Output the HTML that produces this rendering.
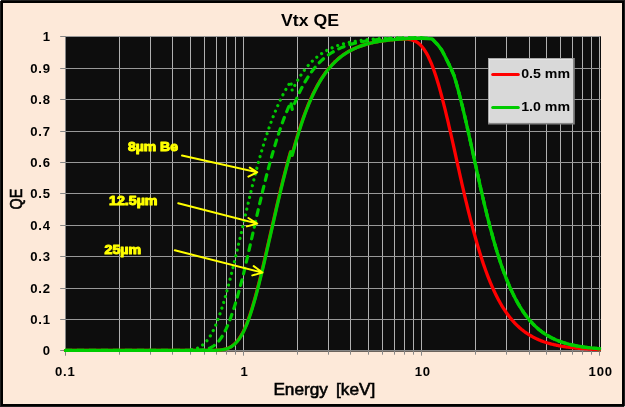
<!DOCTYPE html>
<html lang="en">
<head>
<meta charset="utf-8">
<title>Vtx QE</title>
<style>
html,body{margin:0;padding:0;background:#FDE9D9;}
body{width:625px;height:407px;overflow:hidden;}
svg{display:block;}
text{font-family:"Liberation Sans",sans-serif;fill:#000;}
.tick{font-size:13.1px;font-weight:bold;letter-spacing:0.85px;}
.title{font-size:16.6px;font-weight:bold;}
.axt{font-size:15.6px;font-weight:normal;stroke:#000;stroke-width:0.55px;}
.axq{font-size:15.6px;font-weight:normal;stroke:#000;stroke-width:0.6px;}
.ann{font-size:12.4px;font-weight:bold;fill:#ffff00;stroke:#ffff00;stroke-width:1px;stroke-linejoin:round;}
.leg{font-size:13.3px;font-weight:bold;}
</style>
</head>
<body>
<svg width="625" height="407" viewBox="0 0 625 407">
<rect x="0" y="0" width="625" height="407" fill="#FDE9D9"/>
<!-- plot area -->
<rect x="65.0" y="36.0" width="536.0" height="315.6" fill="#0D0D0D"/>
<g shape-rendering="auto">
<line x1="65.5" y1="350" x2="65.5" y2="355.7" stroke="#868686" stroke-width="1"/>
<line x1="119.5" y1="36.0" x2="119.5" y2="350" stroke="#b0b0b0" stroke-width="1"/>
<line x1="119.5" y1="350" x2="119.5" y2="354.7" stroke="#868686" stroke-width="1"/>
<line x1="150.5" y1="36.0" x2="150.5" y2="350" stroke="#b0b0b0" stroke-width="1"/>
<line x1="150.5" y1="350" x2="150.5" y2="354.7" stroke="#868686" stroke-width="1"/>
<line x1="172.5" y1="36.0" x2="172.5" y2="350" stroke="#b0b0b0" stroke-width="1"/>
<line x1="172.5" y1="350" x2="172.5" y2="354.7" stroke="#868686" stroke-width="1"/>
<line x1="190.5" y1="36.0" x2="190.5" y2="350" stroke="#b0b0b0" stroke-width="1"/>
<line x1="190.5" y1="350" x2="190.5" y2="354.7" stroke="#868686" stroke-width="1"/>
<line x1="204.5" y1="36.0" x2="204.5" y2="350" stroke="#b0b0b0" stroke-width="1"/>
<line x1="204.5" y1="350" x2="204.5" y2="354.7" stroke="#868686" stroke-width="1"/>
<line x1="216.5" y1="36.0" x2="216.5" y2="350" stroke="#b0b0b0" stroke-width="1"/>
<line x1="216.5" y1="350" x2="216.5" y2="354.7" stroke="#868686" stroke-width="1"/>
<line x1="226.5" y1="36.0" x2="226.5" y2="350" stroke="#b0b0b0" stroke-width="1"/>
<line x1="226.5" y1="350" x2="226.5" y2="354.7" stroke="#868686" stroke-width="1"/>
<line x1="235.5" y1="36.0" x2="235.5" y2="350" stroke="#b0b0b0" stroke-width="1"/>
<line x1="235.5" y1="350" x2="235.5" y2="354.7" stroke="#868686" stroke-width="1"/>
<line x1="243.5" y1="36.0" x2="243.5" y2="350" stroke="#b0b0b0" stroke-width="1"/>
<line x1="243.5" y1="350" x2="243.5" y2="355.7" stroke="#868686" stroke-width="1"/>
<line x1="297.5" y1="36.0" x2="297.5" y2="350" stroke="#b0b0b0" stroke-width="1"/>
<line x1="297.5" y1="350" x2="297.5" y2="354.7" stroke="#868686" stroke-width="1"/>
<line x1="328.5" y1="36.0" x2="328.5" y2="350" stroke="#b0b0b0" stroke-width="1"/>
<line x1="328.5" y1="350" x2="328.5" y2="354.7" stroke="#868686" stroke-width="1"/>
<line x1="350.5" y1="36.0" x2="350.5" y2="350" stroke="#b0b0b0" stroke-width="1"/>
<line x1="350.5" y1="350" x2="350.5" y2="354.7" stroke="#868686" stroke-width="1"/>
<line x1="368.5" y1="36.0" x2="368.5" y2="350" stroke="#b0b0b0" stroke-width="1"/>
<line x1="368.5" y1="350" x2="368.5" y2="354.7" stroke="#868686" stroke-width="1"/>
<line x1="382.5" y1="36.0" x2="382.5" y2="350" stroke="#b0b0b0" stroke-width="1"/>
<line x1="382.5" y1="350" x2="382.5" y2="354.7" stroke="#868686" stroke-width="1"/>
<line x1="394.5" y1="36.0" x2="394.5" y2="350" stroke="#b0b0b0" stroke-width="1"/>
<line x1="394.5" y1="350" x2="394.5" y2="354.7" stroke="#868686" stroke-width="1"/>
<line x1="404.5" y1="36.0" x2="404.5" y2="350" stroke="#b0b0b0" stroke-width="1"/>
<line x1="404.5" y1="350" x2="404.5" y2="354.7" stroke="#868686" stroke-width="1"/>
<line x1="413.5" y1="36.0" x2="413.5" y2="350" stroke="#b0b0b0" stroke-width="1"/>
<line x1="413.5" y1="350" x2="413.5" y2="354.7" stroke="#868686" stroke-width="1"/>
<line x1="421.5" y1="36.0" x2="421.5" y2="350" stroke="#b0b0b0" stroke-width="1"/>
<line x1="421.5" y1="350" x2="421.5" y2="355.7" stroke="#868686" stroke-width="1"/>
<line x1="475.5" y1="36.0" x2="475.5" y2="350" stroke="#b0b0b0" stroke-width="1"/>
<line x1="475.5" y1="350" x2="475.5" y2="354.7" stroke="#868686" stroke-width="1"/>
<line x1="506.5" y1="36.0" x2="506.5" y2="350" stroke="#b0b0b0" stroke-width="1"/>
<line x1="506.5" y1="350" x2="506.5" y2="354.7" stroke="#868686" stroke-width="1"/>
<line x1="529.5" y1="36.0" x2="529.5" y2="350" stroke="#b0b0b0" stroke-width="1"/>
<line x1="529.5" y1="350" x2="529.5" y2="354.7" stroke="#868686" stroke-width="1"/>
<line x1="546.5" y1="36.0" x2="546.5" y2="350" stroke="#b0b0b0" stroke-width="1"/>
<line x1="546.5" y1="350" x2="546.5" y2="354.7" stroke="#868686" stroke-width="1"/>
<line x1="560.5" y1="36.0" x2="560.5" y2="350" stroke="#b0b0b0" stroke-width="1"/>
<line x1="560.5" y1="350" x2="560.5" y2="354.7" stroke="#868686" stroke-width="1"/>
<line x1="572.5" y1="36.0" x2="572.5" y2="350" stroke="#b0b0b0" stroke-width="1"/>
<line x1="572.5" y1="350" x2="572.5" y2="354.7" stroke="#868686" stroke-width="1"/>
<line x1="582.5" y1="36.0" x2="582.5" y2="350" stroke="#b0b0b0" stroke-width="1"/>
<line x1="582.5" y1="350" x2="582.5" y2="354.7" stroke="#868686" stroke-width="1"/>
<line x1="591.5" y1="36.0" x2="591.5" y2="350" stroke="#b0b0b0" stroke-width="1"/>
<line x1="591.5" y1="350" x2="591.5" y2="354.7" stroke="#868686" stroke-width="1"/>
<line x1="599.5" y1="36.0" x2="599.5" y2="350" stroke="#b0b0b0" stroke-width="1"/>
<line x1="599.5" y1="350" x2="599.5" y2="355.7" stroke="#868686" stroke-width="1"/>
<line x1="60.2" y1="350.5" x2="65.0" y2="350.5" stroke="#868686" stroke-width="1"/>
<line x1="65.0" y1="319.5" x2="600.5" y2="319.5" stroke="#989898" stroke-width="1"/>
<line x1="60.2" y1="319.5" x2="65.0" y2="319.5" stroke="#868686" stroke-width="1"/>
<line x1="65.0" y1="288.5" x2="600.5" y2="288.5" stroke="#989898" stroke-width="1"/>
<line x1="60.2" y1="288.5" x2="65.0" y2="288.5" stroke="#868686" stroke-width="1"/>
<line x1="65.0" y1="256.5" x2="600.5" y2="256.5" stroke="#989898" stroke-width="1"/>
<line x1="60.2" y1="256.5" x2="65.0" y2="256.5" stroke="#868686" stroke-width="1"/>
<line x1="65.0" y1="225.5" x2="600.5" y2="225.5" stroke="#989898" stroke-width="1"/>
<line x1="60.2" y1="225.5" x2="65.0" y2="225.5" stroke="#868686" stroke-width="1"/>
<line x1="65.0" y1="193.5" x2="600.5" y2="193.5" stroke="#989898" stroke-width="1"/>
<line x1="60.2" y1="193.5" x2="65.0" y2="193.5" stroke="#868686" stroke-width="1"/>
<line x1="65.0" y1="162.5" x2="600.5" y2="162.5" stroke="#989898" stroke-width="1"/>
<line x1="60.2" y1="162.5" x2="65.0" y2="162.5" stroke="#868686" stroke-width="1"/>
<line x1="65.0" y1="131.5" x2="600.5" y2="131.5" stroke="#989898" stroke-width="1"/>
<line x1="60.2" y1="131.5" x2="65.0" y2="131.5" stroke="#868686" stroke-width="1"/>
<line x1="65.0" y1="99.5" x2="600.5" y2="99.5" stroke="#989898" stroke-width="1"/>
<line x1="60.2" y1="99.5" x2="65.0" y2="99.5" stroke="#868686" stroke-width="1"/>
<line x1="65.0" y1="68.5" x2="600.5" y2="68.5" stroke="#989898" stroke-width="1"/>
<line x1="60.2" y1="68.5" x2="65.0" y2="68.5" stroke="#868686" stroke-width="1"/>
<line x1="65.0" y1="36.5" x2="600.5" y2="36.5" stroke="#989898" stroke-width="1"/>
<line x1="60.2" y1="36.5" x2="65.0" y2="36.5" stroke="#868686" stroke-width="1"/>
<line x1="65.5" y1="36.0" x2="65.5" y2="351.6" stroke="#868686" stroke-width="1"/>
<line x1="65.0" y1="350.5" x2="601.0" y2="350.5" stroke="#868686" stroke-width="1"/>
</g>
<!-- curves -->
<clipPath id="pc"><rect x="63" y="36" width="538.2" height="317"/></clipPath>
<g fill="none" stroke-linejoin="round" stroke-linecap="round" clip-path="url(#pc)">
<path d="M65.60,350.40 L66.36,350.40 L67.13,350.40 L67.89,350.40 L68.66,350.40 L69.42,350.40 L70.19,350.40 L70.95,350.40 L71.72,350.40 L72.48,350.40 L73.24,350.40 L74.01,350.40 L74.77,350.40 L75.54,350.40 L76.30,350.40 L77.07,350.40 L77.83,350.40 L78.59,350.40 L79.36,350.40 L80.12,350.40 L80.89,350.40 L81.65,350.40 L82.42,350.40 L83.18,350.40 L83.95,350.40 L84.71,350.40 L85.47,350.40 L86.24,350.40 L87.00,350.40 L87.77,350.40 L88.53,350.40 L89.30,350.40 L90.06,350.40 L90.82,350.40 L91.59,350.40 L92.35,350.40 L93.12,350.40 L93.88,350.40 L94.65,350.40 L95.41,350.40 L96.18,350.40 L96.94,350.40 L97.70,350.40 L98.47,350.40 L99.23,350.40 L100.00,350.40 L100.76,350.40 L101.53,350.40 L102.29,350.40 L103.05,350.40 L103.82,350.40 L104.58,350.40 L105.35,350.40 L106.11,350.40 L106.88,350.40 L107.64,350.40 L108.41,350.40 L109.17,350.40 L109.93,350.40 L110.70,350.40 L111.46,350.40 L112.23,350.40 L112.99,350.40 L113.76,350.40 L114.52,350.40 L115.28,350.40 L116.05,350.40 L116.81,350.40 L117.58,350.40 L118.34,350.40 L119.11,350.40 L119.87,350.40 L120.64,350.40 L121.40,350.40 L122.16,350.40 L122.93,350.40 L123.69,350.40 L124.46,350.40 L125.22,350.40 L125.99,350.40 L126.75,350.40 L127.51,350.40 L128.28,350.40 L129.04,350.40 L129.81,350.40 L130.57,350.40 L131.34,350.40 L132.10,350.40 L132.87,350.40 L133.63,350.40 L134.39,350.40 L135.16,350.40 L135.92,350.40 L136.69,350.40 L137.45,350.40 L138.22,350.40 L138.98,350.40 L139.74,350.40 L140.51,350.40 L141.27,350.40 L142.04,350.40 L142.80,350.40 L143.57,350.40 L144.33,350.40 L145.10,350.40 L145.86,350.40 L146.62,350.40 L147.39,350.40 L148.15,350.40 L148.92,350.40 L149.68,350.40 L150.45,350.40 L151.21,350.40 L151.97,350.40 L152.74,350.40 L153.50,350.40 L154.27,350.40 L155.03,350.40 L155.80,350.40 L156.56,350.40 L157.33,350.40 L158.09,350.40 L158.85,350.40 L159.62,350.40 L160.38,350.40 L161.15,350.40 L161.91,350.40 L162.68,350.40 L163.44,350.40 L164.20,350.40 L164.97,350.40 L165.73,350.40 L166.50,350.40 L167.26,350.40 L168.03,350.40 L168.79,350.40 L169.56,350.40 L170.32,350.40 L171.08,350.40 L171.85,350.40 L172.61,350.40 L173.38,350.40 L174.14,350.40 L174.91,350.40 L175.67,350.40 L176.43,350.40 L177.20,350.40 L177.96,350.40 L178.73,350.40 L179.49,350.40 L180.26,350.40 L181.02,350.40 L181.79,350.40 L182.55,350.40 L183.31,350.40 L184.08,350.40 L184.84,350.40 L185.61,350.40 L186.37,350.40 L187.14,350.40 L187.90,350.40 L188.66,350.40 L189.43,350.40 L190.19,350.40 L190.96,350.40 L191.72,350.40 L192.49,350.40 L193.25,350.40 L194.02,350.40 L194.78,350.40 L195.54,350.40 L196.31,350.40 L197.07,350.40 L197.84,350.40 L198.60,350.40 L199.37,350.40 L200.13,350.40 L200.89,350.40 L201.66,350.40 L202.42,350.40 L203.19,350.40 L203.95,350.40 L204.72,350.40 L205.48,350.40 L206.25,350.40 L207.01,350.39 L207.77,350.39 L208.54,350.39 L209.30,350.39 L210.07,350.38 L210.83,350.37 L211.60,350.37 L212.36,350.36 L213.12,350.34 L213.89,350.33 L214.65,350.31 L215.42,350.29 L216.18,350.26 L216.95,350.23 L217.71,350.19 L218.48,350.14 L219.24,350.08 L220.00,350.02 L220.77,349.94 L221.53,349.85 L222.30,349.74 L223.06,349.61 L223.83,349.47 L224.59,349.31 L225.35,349.12 L226.12,348.91 L226.88,348.67 L227.65,348.40 L228.41,348.10 L229.18,347.76 L229.94,347.39 L230.71,346.97 L231.47,346.51 L232.23,346.01 L233.00,345.46 L233.76,344.85 L234.53,344.19 L235.29,343.48 L236.06,342.70 L236.82,341.86 L237.58,340.96 L238.35,340.00 L239.11,338.97 L239.88,337.86 L240.64,336.69 L241.41,335.44 L242.17,334.12 L242.94,332.72 L243.70,331.25 L244.46,329.63 L245.23,327.93 L245.99,326.14 L246.76,324.27 L247.52,322.32 L248.29,320.28 L249.05,318.16 L249.82,315.96 L250.58,313.68 L251.34,311.32 L252.11,308.89 L252.87,306.38 L253.64,303.80 L254.40,301.16 L255.17,298.44 L255.93,295.66 L256.69,292.82 L257.46,289.93 L258.22,286.97 L258.99,283.97 L259.75,280.92 L260.52,277.82 L261.28,274.68 L262.05,271.50 L262.81,268.29 L263.57,265.05 L264.34,261.78 L265.10,258.48 L265.87,255.17 L266.63,251.84 L267.40,248.49 L268.16,245.13 L268.92,241.76 L269.69,238.39 L270.45,235.02 L271.22,231.65 L271.98,228.29 L272.75,224.93 L273.51,221.58 L274.28,218.25 L275.04,214.93 L275.80,211.56 L276.57,208.21 L277.33,204.88 L278.10,201.58 L278.86,198.30 L279.63,195.06 L280.39,191.85 L281.15,188.66 L281.92,185.52 L282.68,182.41 L283.45,179.33 L284.21,176.30 L284.98,173.30 L285.74,170.35 L286.51,167.43 L287.27,164.56 L288.03,161.74 L288.80,158.95 L289.56,156.22 L290.33,153.52 L290.82,151.82 L292.20,155.29 L292.62,153.72 L293.38,150.91 L294.15,148.15 L294.91,145.44 L295.68,142.78 L296.44,140.16 L297.21,137.60 L297.97,135.05 L298.74,132.55 L299.50,130.10 L300.26,127.70 L301.03,125.35 L301.79,123.04 L302.56,120.79 L303.32,118.58 L304.09,116.42 L304.85,114.31 L305.61,112.25 L306.38,110.23 L307.14,108.26 L307.91,106.33 L308.67,104.45 L309.44,102.62 L310.20,100.82 L310.97,99.07 L311.73,97.36 L312.49,95.70 L313.26,94.07 L314.02,92.49 L314.79,90.94 L315.55,89.44 L316.32,87.97 L317.08,86.54 L317.84,85.14 L318.61,83.78 L319.37,82.46 L320.14,81.17 L320.90,79.91 L321.67,78.69 L322.43,77.50 L323.20,76.34 L323.96,75.22 L324.72,74.12 L325.49,73.05 L326.25,72.02 L327.02,71.01 L327.78,70.02 L328.55,69.07 L329.31,68.13 L330.07,67.23 L330.84,66.34 L331.60,65.49 L332.37,64.65 L333.13,63.84 L333.90,63.06 L334.66,62.29 L335.43,61.55 L336.19,60.82 L336.95,60.12 L337.72,59.44 L338.48,58.78 L339.25,58.14 L340.01,57.51 L340.78,56.90 L341.54,56.31 L342.30,55.74 L343.07,55.19 L343.83,54.65 L344.60,54.12 L345.36,53.62 L346.13,53.12 L346.89,52.64 L347.66,52.18 L348.42,51.73 L349.18,51.29 L349.95,50.86 L350.71,50.45 L351.48,50.05 L352.24,49.67 L353.01,49.29 L353.77,48.93 L354.53,48.58 L355.30,48.24 L356.06,47.90 L356.83,47.58 L357.59,47.27 L358.36,46.97 L359.12,46.67 L359.89,46.39 L360.65,46.11 L361.41,45.84 L362.18,45.58 L362.94,45.33 L363.71,45.08 L364.47,44.84 L365.24,44.61 L366.00,44.38 L366.76,44.17 L367.53,43.96 L368.29,43.75 L369.06,43.56 L369.82,43.37 L370.59,43.18 L371.35,43.01 L372.12,42.83 L372.88,42.67 L373.64,42.50 L374.41,42.35 L375.17,42.19 L375.94,42.04 L376.70,41.90 L377.47,41.76 L378.23,41.62 L378.99,41.49 L379.76,41.36 L380.52,41.24 L381.29,41.12 L382.05,41.00 L382.82,40.89 L383.58,40.78 L384.35,40.68 L385.11,40.58 L385.87,40.49 L386.64,40.40 L387.40,40.30 L388.17,40.22 L388.93,40.13 L389.70,40.05 L390.46,39.97 L391.22,39.89 L391.99,39.81 L392.75,39.74 L393.52,39.67 L394.28,39.60 L395.05,39.54 L395.81,39.47 L396.58,39.41 L397.34,39.36 L398.10,39.30 L398.87,39.25 L399.63,39.21 L400.40,39.17 L401.16,39.13 L401.93,39.10 L402.69,39.08 L403.45,39.06 L404.22,39.05 L404.98,39.06 L405.75,39.08 L406.51,39.11 L407.28,39.16 L408.04,39.22 L408.81,39.31 L409.57,39.41 L410.33,39.53 L411.10,39.69 L411.86,39.87 L412.63,40.08 L413.39,40.32 L414.16,40.60 L414.92,40.92 L415.68,41.29 L416.45,41.69 L417.21,42.15 L417.98,42.67 L418.74,43.23 L419.51,43.86 L420.27,44.55 L421.04,45.30 L421.80,46.13 L422.56,47.01 L423.33,47.97 L424.09,49.00 L424.86,50.11 L425.62,51.29 L426.39,52.55 L427.15,53.90 L427.92,55.32 L428.68,56.83 L429.44,58.43 L430.21,60.11 L430.97,61.87 L431.74,63.72 L432.50,65.65 L433.27,67.66 L434.03,69.76 L434.79,71.94 L435.56,74.20 L436.32,76.54 L437.09,78.96 L437.85,81.45 L438.62,84.02 L439.38,86.65 L440.15,89.36 L440.91,92.13 L441.67,94.96 L442.44,97.85 L443.20,100.80 L443.97,103.80 L444.73,106.85 L445.50,109.95 L446.26,113.09 L447.02,116.27 L447.79,119.49 L448.55,122.74 L449.32,126.02 L450.08,129.32 L450.85,132.65 L451.61,136.00 L452.38,139.36 L453.14,142.74 L453.90,146.20 L454.67,149.68 L455.43,153.15 L456.20,156.63 L456.96,160.10 L457.73,163.57 L458.49,167.02 L459.25,170.47 L460.02,173.90 L460.78,177.31 L461.55,180.70 L462.31,184.07 L463.08,187.42 L463.84,190.74 L464.61,194.03 L465.37,197.29 L466.13,200.52 L466.90,203.71 L467.66,206.87 L468.43,209.99 L469.19,213.08 L469.96,216.13 L470.72,219.13 L471.48,222.10 L472.25,225.02 L473.01,227.90 L473.78,230.74 L474.54,233.53 L475.31,236.28 L476.07,239.02 L476.84,241.72 L477.60,244.38 L478.36,246.98 L479.13,249.54 L479.89,252.06 L480.66,254.52 L481.42,256.94 L482.19,259.31 L482.95,261.63 L483.71,263.90 L484.48,266.13 L485.24,268.31 L486.01,270.45 L486.77,272.54 L487.54,274.59 L488.30,276.58 L489.07,278.54 L489.83,280.45 L490.59,282.32 L491.36,284.14 L492.12,285.93 L492.89,287.67 L493.65,289.37 L494.42,291.03 L495.18,292.65 L495.94,294.23 L496.71,295.77 L497.47,297.28 L498.24,298.74 L499.00,300.17 L499.77,301.57 L500.53,302.93 L501.30,304.25 L502.06,305.55 L502.82,306.80 L503.59,308.03 L504.35,309.23 L505.12,310.39 L505.88,311.52 L506.65,312.62 L507.41,313.70 L508.17,314.75 L508.94,315.77 L509.70,316.77 L510.47,317.73 L511.23,318.68 L512.00,319.59 L512.76,320.48 L513.53,321.35 L514.29,322.19 L515.05,323.01 L515.82,323.81 L516.58,324.58 L517.35,325.33 L518.11,326.07 L518.88,326.78 L519.64,327.47 L520.40,328.14 L521.17,328.79 L521.93,329.43 L522.70,330.04 L523.46,330.64 L524.23,331.22 L524.99,331.79 L525.76,332.34 L526.52,332.87 L527.28,333.39 L528.05,333.89 L528.81,334.38 L529.58,334.86 L530.34,335.33 L531.11,335.79 L531.87,336.23 L532.63,336.66 L533.40,337.08 L534.16,337.48 L534.93,337.87 L535.69,338.25 L536.46,338.62 L537.22,338.98 L537.99,339.33 L538.75,339.66 L539.51,339.99 L540.28,340.31 L541.04,340.62 L541.81,340.91 L542.57,341.20 L543.34,341.48 L544.10,341.76 L544.86,342.02 L545.63,342.28 L546.39,342.53 L547.16,342.77 L547.92,343.00 L548.69,343.23 L549.45,343.45 L550.22,343.66 L550.98,343.87 L551.74,344.07 L552.51,344.26 L553.27,344.45 L554.04,344.63 L554.80,344.81 L555.57,344.98 L556.33,345.15 L557.09,345.31 L557.86,345.47 L558.62,345.62 L559.39,345.77 L560.15,345.91 L560.92,346.05 L561.68,346.18 L562.45,346.31 L563.21,346.44 L563.97,346.56 L564.74,346.68 L565.50,346.80 L566.27,346.91 L567.03,347.02 L567.80,347.13 L568.56,347.23 L569.32,347.33 L570.09,347.42 L570.85,347.51 L571.62,347.60 L572.38,347.69 L573.15,347.78 L573.91,347.86 L574.68,347.94 L575.44,348.01 L576.20,348.09 L576.97,348.16 L577.73,348.23 L578.50,348.30 L579.26,348.36 L580.03,348.43 L580.79,348.49 L581.55,348.55 L582.32,348.60 L583.08,348.66 L583.85,348.72 L584.61,348.77 L585.38,348.82 L586.14,348.88 L586.91,348.92 L587.67,348.97 L588.43,349.02 L589.20,349.06 L589.96,349.11 L590.73,349.15 L591.49,349.19 L592.26,349.23 L593.02,349.26 L593.78,349.30 L594.55,349.34 L595.31,349.37 L596.08,349.40 L596.84,349.44 L597.61,349.47 L598.37,349.50 L599.14,349.53 L599.90,349.55" stroke="#ff0000" stroke-width="3.3" transform="translate(-0.3,0)"/>
<path d="M65.60,350.40 L66.36,350.40 L67.13,350.40 L67.89,350.40 L68.66,350.40 L69.42,350.40 L70.19,350.40 L70.95,350.40 L71.72,350.40 L72.48,350.40 L73.24,350.40 L74.01,350.40 L74.77,350.40 L75.54,350.40 L76.30,350.40 L77.07,350.40 L77.83,350.40 L78.59,350.40 L79.36,350.40 L80.12,350.40 L80.89,350.40 L81.65,350.40 L82.42,350.40 L83.18,350.40 L83.95,350.40 L84.71,350.40 L85.47,350.40 L86.24,350.40 L87.00,350.40 L87.77,350.40 L88.53,350.40 L89.30,350.40 L90.06,350.40 L90.82,350.40 L91.59,350.40 L92.35,350.40 L93.12,350.40 L93.88,350.40 L94.65,350.40 L95.41,350.40 L96.18,350.40 L96.94,350.40 L97.70,350.40 L98.47,350.40 L99.23,350.40 L100.00,350.40 L100.76,350.40 L101.53,350.40 L102.29,350.40 L103.05,350.40 L103.82,350.40 L104.58,350.40 L105.35,350.40 L106.11,350.40 L106.88,350.40 L107.64,350.40 L108.41,350.40 L109.17,350.40 L109.93,350.40 L110.70,350.40 L111.46,350.40 L112.23,350.40 L112.99,350.40 L113.76,350.40 L114.52,350.40 L115.28,350.40 L116.05,350.40 L116.81,350.40 L117.58,350.40 L118.34,350.40 L119.11,350.40 L119.87,350.40 L120.64,350.40 L121.40,350.40 L122.16,350.40 L122.93,350.40 L123.69,350.40 L124.46,350.40 L125.22,350.40 L125.99,350.40 L126.75,350.40 L127.51,350.40 L128.28,350.40 L129.04,350.40 L129.81,350.40 L130.57,350.40 L131.34,350.40 L132.10,350.40 L132.87,350.40 L133.63,350.40 L134.39,350.40 L135.16,350.40 L135.92,350.40 L136.69,350.40 L137.45,350.40 L138.22,350.40 L138.98,350.40 L139.74,350.40 L140.51,350.40 L141.27,350.40 L142.04,350.40 L142.80,350.40 L143.57,350.40 L144.33,350.40 L145.10,350.40 L145.86,350.40 L146.62,350.40 L147.39,350.40 L148.15,350.40 L148.92,350.40 L149.68,350.40 L150.45,350.40 L151.21,350.40 L151.97,350.40 L152.74,350.40 L153.50,350.40 L154.27,350.40 L155.03,350.40 L155.80,350.40 L156.56,350.40 L157.33,350.40 L158.09,350.40 L158.85,350.40 L159.62,350.40 L160.38,350.40 L161.15,350.40 L161.91,350.40 L162.68,350.40 L163.44,350.40 L164.20,350.40 L164.97,350.40 L165.73,350.40 L166.50,350.40 L167.26,350.40 L168.03,350.40 L168.79,350.40 L169.56,350.40 L170.32,350.40 L171.08,350.40 L171.85,350.40 L172.61,350.40 L173.38,350.40 L174.14,350.40 L174.91,350.40 L175.67,350.40 L176.43,350.39 L177.20,350.39 L177.96,350.39 L178.73,350.38 L179.49,350.38 L180.26,350.37 L181.02,350.36 L181.79,350.35 L182.55,350.34 L183.31,350.32 L184.08,350.30 L184.84,350.28 L185.61,350.25 L186.37,350.22 L187.14,350.17 L187.90,350.12 L188.66,350.06 L189.43,349.99 L190.19,349.91 L190.96,349.81 L191.72,349.70 L192.49,349.57 L193.25,349.42 L194.02,349.25 L194.78,349.06 L195.54,348.84 L196.31,348.59 L197.07,348.31 L197.84,348.00 L198.60,347.65 L199.37,347.26 L200.13,346.83 L200.89,346.36 L201.66,345.83 L202.42,345.26 L203.19,344.64 L203.95,343.96 L204.72,343.23 L205.48,342.43 L206.25,341.57 L207.01,340.65 L207.77,339.66 L208.54,338.61 L209.30,337.48 L210.07,336.28 L210.83,335.01 L211.60,333.66 L212.36,332.24 L213.12,330.74 L213.89,329.16 L214.65,327.51 L215.42,325.78 L216.18,323.98 L216.95,322.10 L217.71,320.14 L218.48,318.10 L219.24,316.00 L220.00,313.82 L220.77,311.56 L221.53,309.24 L222.30,306.85 L223.06,304.40 L223.83,301.88 L224.59,299.29 L225.35,296.65 L226.12,293.95 L226.88,291.20 L227.65,288.39 L228.41,285.54 L229.18,282.63 L229.94,279.69 L230.71,276.70 L231.47,273.68 L232.23,270.62 L233.00,267.54 L233.76,264.42 L234.53,261.28 L235.29,258.11 L236.06,254.93 L236.82,251.73 L237.58,248.52 L238.35,245.29 L239.11,242.06 L239.88,238.83 L240.64,235.59 L241.41,232.35 L242.17,229.12 L242.94,225.89 L243.70,222.66 L244.46,219.31 L245.23,215.96 L245.99,212.64 L246.76,209.33 L247.52,206.04 L248.29,202.77 L249.05,199.53 L249.82,196.32 L250.58,193.13 L251.34,189.98 L252.11,186.85 L252.87,183.76 L253.64,180.71 L254.40,177.69 L255.17,174.71 L255.93,171.76 L256.69,168.86 L257.46,165.99 L258.22,163.17 L258.99,160.38 L259.75,157.64 L260.52,154.94 L261.28,152.29 L262.05,149.68 L262.81,147.11 L263.57,144.59 L264.34,142.11 L265.10,139.67 L265.87,137.28 L266.63,134.94 L267.40,132.64 L268.16,130.38 L268.92,128.17 L269.69,126.00 L270.45,123.88 L271.22,121.79 L271.98,119.76 L272.75,117.76 L273.51,115.81 L274.28,113.90 L275.04,112.03 L275.80,110.17 L276.57,108.35 L277.33,106.57 L278.10,104.83 L278.86,103.14 L279.63,101.48 L280.39,99.86 L281.15,98.29 L281.92,96.75 L282.68,95.25 L283.45,93.79 L284.21,92.36 L284.98,90.97 L285.74,89.62 L286.51,88.30 L287.27,87.01 L288.03,85.76 L288.80,84.55 L289.56,83.36 L290.33,82.21 L290.82,81.49 L292.20,90.40 L292.62,89.54 L293.38,88.03 L294.15,86.56 L294.91,85.13 L295.68,83.73 L296.44,82.37 L297.21,81.05 L297.97,79.76 L298.74,78.49 L299.50,77.26 L300.26,76.07 L301.03,74.91 L301.79,73.78 L302.56,72.69 L303.32,71.62 L304.09,70.59 L304.85,69.58 L305.61,68.60 L306.38,67.65 L307.14,66.73 L307.91,65.84 L308.67,64.97 L309.44,64.13 L310.20,63.31 L310.97,62.51 L311.73,61.74 L312.49,60.99 L313.26,60.26 L314.02,59.56 L314.79,58.87 L315.55,58.21 L316.32,57.56 L317.08,56.94 L317.84,56.33 L318.61,55.74 L319.37,55.17 L320.14,54.62 L320.90,54.08 L321.67,53.56 L322.43,53.05 L323.20,52.56 L323.96,52.09 L324.72,51.63 L325.49,51.18 L326.25,50.74 L327.02,50.32 L327.78,49.92 L328.55,49.52 L329.31,49.14 L330.07,48.76 L330.84,48.40 L331.60,48.05 L332.37,47.71 L333.13,47.38 L333.90,47.07 L334.66,46.76 L335.43,46.46 L336.19,46.17 L336.95,45.89 L337.72,45.61 L338.48,45.35 L339.25,45.09 L340.01,44.84 L340.78,44.60 L341.54,44.37 L342.30,44.14 L343.07,43.93 L343.83,43.71 L344.60,43.51 L345.36,43.31 L346.13,43.12 L346.89,42.93 L347.66,42.75 L348.42,42.57 L349.18,42.40 L349.95,42.24 L350.71,42.08 L351.48,41.93 L352.24,41.78 L353.01,41.63 L353.77,41.49 L354.53,41.36 L355.30,41.23 L356.06,41.10 L356.83,40.98 L357.59,40.86 L358.36,40.74 L359.12,40.63 L359.89,40.52 L360.65,40.42 L361.41,40.32 L362.18,40.22 L362.94,40.12 L363.71,40.03 L364.47,39.94 L365.24,39.85 L366.00,39.77 L366.76,39.69 L367.53,39.61 L368.29,39.53 L369.06,39.46 L369.82,39.39 L370.59,39.32 L371.35,39.25 L372.12,39.19 L372.88,39.13 L373.64,39.07 L374.41,39.01 L375.17,38.95 L375.94,38.89 L376.70,38.84 L377.47,38.79 L378.23,38.74 L378.99,38.69 L379.76,38.64 L380.52,38.60 L381.29,38.55 L382.05,38.51 L382.82,38.47 L383.58,38.43 L384.35,38.39 L385.11,38.36 L385.87,38.32 L386.64,38.29 L387.40,38.25 L388.17,38.22 L388.93,38.19 L389.70,38.16 L390.46,38.13 L391.22,38.10 L391.99,38.07 L392.75,38.05 L393.52,38.02 L394.28,38.00 L395.05,37.97 L395.81,37.95 L396.58,37.92 L397.34,37.90 L398.10,37.88 L398.87,37.86 L399.63,37.84 L400.40,37.82 L401.16,37.80 L401.93,37.78 L402.69,37.76 L403.45,37.74 L404.22,37.72 L404.98,37.71 L405.75,37.69 L406.51,37.68 L407.28,37.66 L408.04,37.65 L408.81,37.64 L409.57,37.63 L410.33,37.61 L411.10,37.60 L411.86,37.59 L412.63,37.58 L413.39,37.58 L414.16,37.57 L414.92,37.56 L415.68,37.56 L416.45,37.56 L417.21,37.56 L417.98,37.57 L418.74,37.57 L419.51,37.59 L420.27,37.61 L421.04,37.63 L421.80,37.66 L432.10,38.80 L437.80,44.80 L441.70,50.00 L445.60,57.50 L451.00,68.50 L454.20,76.00 L454.67,77.49 L455.43,80.02 L456.20,82.63 L456.96,85.32 L457.73,88.07 L458.49,90.90 L459.25,93.79 L460.02,96.75 L460.78,99.76 L461.55,102.83 L462.31,105.96 L463.08,109.13 L463.84,112.35 L464.61,115.61 L465.37,118.91 L466.13,122.25 L466.90,125.61 L467.66,129.01 L468.43,132.42 L469.19,135.86 L469.96,139.31 L470.72,142.77 L471.48,146.25 L472.25,149.73 L473.01,153.21 L473.78,156.69 L474.54,160.17 L475.31,163.64 L476.07,167.15 L476.84,170.66 L477.60,174.15 L478.36,177.62 L479.13,181.07 L479.89,184.50 L480.66,187.90 L481.42,191.28 L482.19,194.62 L482.95,197.94 L483.71,201.21 L484.48,204.46 L485.24,207.66 L486.01,210.83 L486.77,213.96 L487.54,217.05 L488.30,220.10 L489.07,223.10 L489.83,226.06 L490.59,228.97 L491.36,231.84 L492.12,234.66 L492.89,237.44 L493.65,240.17 L494.42,242.85 L495.18,245.49 L495.94,248.08 L496.71,250.62 L497.47,253.11 L498.24,255.56 L499.00,257.95 L499.77,260.30 L500.53,262.61 L501.30,264.86 L502.06,267.07 L502.82,269.23 L503.59,271.35 L504.35,273.42 L505.12,275.45 L505.88,277.43 L506.65,279.37 L507.41,281.27 L508.17,283.12 L508.94,284.94 L509.70,286.71 L510.47,288.44 L511.23,290.13 L512.00,291.78 L512.76,293.39 L513.53,294.96 L514.29,296.49 L515.05,297.99 L515.82,299.44 L516.58,300.86 L517.35,302.25 L518.11,303.60 L518.88,304.91 L519.64,306.19 L520.40,307.44 L521.17,308.65 L521.93,309.84 L522.70,310.99 L523.46,312.11 L524.23,313.20 L524.99,314.27 L525.76,315.30 L526.52,316.31 L527.28,317.29 L528.05,318.24 L528.81,319.17 L529.58,320.08 L530.34,320.98 L531.11,321.85 L531.87,322.69 L532.63,323.51 L533.40,324.31 L534.16,325.08 L534.93,325.83 L535.69,326.57 L536.46,327.28 L537.22,327.97 L537.99,328.64 L538.75,329.29 L539.51,329.92 L540.28,330.53 L541.04,331.13 L541.81,331.71 L542.57,332.27 L543.34,332.81 L544.10,333.34 L544.86,333.86 L545.63,334.36 L546.39,334.84 L547.16,335.31 L547.92,335.77 L548.69,336.21 L549.45,336.64 L550.22,337.06 L550.98,337.47 L551.74,337.86 L552.51,338.24 L553.27,338.61 L554.04,338.97 L554.80,339.32 L555.57,339.65 L556.33,339.98 L557.09,340.30 L557.86,340.61 L558.62,340.91 L559.39,341.20 L560.15,341.48 L560.92,341.75 L561.68,342.02 L562.45,342.28 L563.21,342.53 L563.97,342.77 L564.74,343.01 L565.50,343.24 L566.27,343.46 L567.03,343.67 L567.80,343.88 L568.56,344.08 L569.32,344.28 L570.09,344.47 L570.85,344.65 L571.62,344.83 L572.38,345.00 L573.15,345.17 L573.91,345.33 L574.68,345.49 L575.44,345.64 L576.20,345.79 L576.97,345.93 L577.73,346.07 L578.50,346.21 L579.26,346.34 L580.03,346.46 L580.79,346.59 L581.55,346.70 L582.32,346.82 L583.08,346.93 L583.85,347.04 L584.61,347.15 L585.38,347.26 L586.14,347.36 L586.91,347.45 L587.67,347.55 L588.43,347.64 L589.20,347.73 L589.96,347.82 L590.73,347.90 L591.49,347.98 L592.26,348.06 L593.02,348.13 L593.78,348.21 L594.55,348.28 L595.31,348.34 L596.08,348.41 L596.84,348.47 L597.61,348.54 L598.37,348.60 L599.14,348.65 L599.90,348.71" stroke="#00cc00" stroke-width="3.2" stroke-dasharray="0.01 6"/>
<path d="M65.60,350.40 L66.36,350.40 L67.13,350.40 L67.89,350.40 L68.66,350.40 L69.42,350.40 L70.19,350.40 L70.95,350.40 L71.72,350.40 L72.48,350.40 L73.24,350.40 L74.01,350.40 L74.77,350.40 L75.54,350.40 L76.30,350.40 L77.07,350.40 L77.83,350.40 L78.59,350.40 L79.36,350.40 L80.12,350.40 L80.89,350.40 L81.65,350.40 L82.42,350.40 L83.18,350.40 L83.95,350.40 L84.71,350.40 L85.47,350.40 L86.24,350.40 L87.00,350.40 L87.77,350.40 L88.53,350.40 L89.30,350.40 L90.06,350.40 L90.82,350.40 L91.59,350.40 L92.35,350.40 L93.12,350.40 L93.88,350.40 L94.65,350.40 L95.41,350.40 L96.18,350.40 L96.94,350.40 L97.70,350.40 L98.47,350.40 L99.23,350.40 L100.00,350.40 L100.76,350.40 L101.53,350.40 L102.29,350.40 L103.05,350.40 L103.82,350.40 L104.58,350.40 L105.35,350.40 L106.11,350.40 L106.88,350.40 L107.64,350.40 L108.41,350.40 L109.17,350.40 L109.93,350.40 L110.70,350.40 L111.46,350.40 L112.23,350.40 L112.99,350.40 L113.76,350.40 L114.52,350.40 L115.28,350.40 L116.05,350.40 L116.81,350.40 L117.58,350.40 L118.34,350.40 L119.11,350.40 L119.87,350.40 L120.64,350.40 L121.40,350.40 L122.16,350.40 L122.93,350.40 L123.69,350.40 L124.46,350.40 L125.22,350.40 L125.99,350.40 L126.75,350.40 L127.51,350.40 L128.28,350.40 L129.04,350.40 L129.81,350.40 L130.57,350.40 L131.34,350.40 L132.10,350.40 L132.87,350.40 L133.63,350.40 L134.39,350.40 L135.16,350.40 L135.92,350.40 L136.69,350.40 L137.45,350.40 L138.22,350.40 L138.98,350.40 L139.74,350.40 L140.51,350.40 L141.27,350.40 L142.04,350.40 L142.80,350.40 L143.57,350.40 L144.33,350.40 L145.10,350.40 L145.86,350.40 L146.62,350.40 L147.39,350.40 L148.15,350.40 L148.92,350.40 L149.68,350.40 L150.45,350.40 L151.21,350.40 L151.97,350.40 L152.74,350.40 L153.50,350.40 L154.27,350.40 L155.03,350.40 L155.80,350.40 L156.56,350.40 L157.33,350.40 L158.09,350.40 L158.85,350.40 L159.62,350.40 L160.38,350.40 L161.15,350.40 L161.91,350.40 L162.68,350.40 L163.44,350.40 L164.20,350.40 L164.97,350.40 L165.73,350.40 L166.50,350.40 L167.26,350.40 L168.03,350.40 L168.79,350.40 L169.56,350.40 L170.32,350.40 L171.08,350.40 L171.85,350.40 L172.61,350.40 L173.38,350.40 L174.14,350.40 L174.91,350.40 L175.67,350.40 L176.43,350.40 L177.20,350.40 L177.96,350.40 L178.73,350.40 L179.49,350.40 L180.26,350.40 L181.02,350.40 L181.79,350.40 L182.55,350.40 L183.31,350.40 L184.08,350.40 L184.84,350.40 L185.61,350.40 L186.37,350.40 L187.14,350.40 L187.90,350.39 L188.66,350.39 L189.43,350.39 L190.19,350.39 L190.96,350.38 L191.72,350.38 L192.49,350.37 L193.25,350.36 L194.02,350.35 L194.78,350.34 L195.54,350.32 L196.31,350.30 L197.07,350.27 L197.84,350.24 L198.60,350.21 L199.37,350.16 L200.13,350.11 L200.89,350.05 L201.66,349.98 L202.42,349.89 L203.19,349.79 L203.95,349.68 L204.72,349.54 L205.48,349.39 L206.25,349.21 L207.01,349.01 L207.77,348.79 L208.54,348.53 L209.30,348.25 L210.07,347.93 L210.83,347.57 L211.60,347.17 L212.36,346.74 L213.12,346.25 L213.89,345.72 L214.65,345.14 L215.42,344.51 L216.18,343.82 L216.95,343.07 L217.71,342.26 L218.48,341.39 L219.24,340.46 L220.00,339.45 L220.77,338.38 L221.53,337.24 L222.30,336.03 L223.06,334.74 L223.83,333.38 L224.59,331.94 L225.35,330.43 L226.12,328.84 L226.88,327.17 L227.65,325.43 L228.41,323.61 L229.18,321.71 L229.94,319.74 L230.71,317.69 L231.47,315.57 L232.23,313.37 L233.00,311.11 L233.76,308.78 L234.53,306.37 L235.29,303.91 L236.06,301.37 L236.82,298.78 L237.58,296.13 L238.35,293.42 L239.11,290.66 L239.88,287.84 L240.64,284.98 L241.41,282.07 L242.17,279.12 L242.94,276.13 L243.70,273.11 L244.46,269.91 L245.23,266.67 L245.99,263.41 L246.76,260.12 L247.52,256.81 L248.29,253.47 L249.05,250.13 L249.82,246.76 L250.58,243.39 L251.34,240.01 L252.11,236.63 L252.87,233.25 L253.64,229.87 L254.40,226.50 L255.17,223.14 L255.93,219.78 L256.69,216.44 L257.46,213.12 L258.22,209.81 L258.99,206.53 L259.75,203.27 L260.52,200.03 L261.28,196.82 L262.05,193.64 L262.81,190.48 L263.57,187.36 L264.34,184.28 L265.10,181.22 L265.87,178.21 L266.63,175.23 L267.40,172.29 L268.16,169.39 L268.92,166.52 L269.69,163.70 L270.45,160.92 L271.22,158.18 L271.98,155.49 L272.75,152.84 L273.51,150.23 L274.28,147.67 L275.04,145.15 L275.80,142.62 L276.57,140.14 L277.33,137.71 L278.10,135.32 L278.86,132.98 L279.63,130.69 L280.39,128.44 L281.15,126.24 L281.92,124.08 L282.68,121.97 L283.45,119.90 L284.21,117.88 L284.98,115.91 L285.74,113.97 L286.51,112.09 L287.27,110.24 L288.03,108.44 L288.80,106.68 L289.56,104.96 L290.33,103.28 L290.82,102.22 L292.20,109.42 L292.62,108.33 L293.38,106.39 L294.15,104.49 L294.91,102.63 L295.68,100.83 L296.44,99.06 L297.21,97.34 L297.97,95.64 L298.74,93.99 L299.50,92.37 L300.26,90.80 L301.03,89.27 L301.79,87.78 L302.56,86.32 L303.32,84.91 L304.09,83.53 L304.85,82.19 L305.61,80.88 L306.38,79.61 L307.14,78.37 L307.91,77.17 L308.67,76.00 L309.44,74.86 L310.20,73.75 L310.97,72.68 L311.73,71.63 L312.49,70.61 L313.26,69.62 L314.02,68.66 L314.79,67.73 L315.55,66.82 L316.32,65.94 L317.08,65.08 L317.84,64.25 L318.61,63.44 L319.37,62.65 L320.14,61.89 L320.90,61.15 L321.67,60.43 L322.43,59.73 L323.20,59.05 L323.96,58.39 L324.72,57.75 L325.49,57.13 L326.25,56.53 L327.02,55.94 L327.78,55.38 L328.55,54.82 L329.31,54.29 L330.07,53.77 L330.84,53.26 L331.60,52.77 L332.37,52.29 L333.13,51.83 L333.90,51.38 L334.66,50.95 L335.43,50.53 L336.19,50.12 L336.95,49.72 L337.72,49.34 L338.48,48.96 L339.25,48.60 L340.01,48.25 L340.78,47.91 L341.54,47.58 L342.30,47.26 L343.07,46.95 L343.83,46.65 L344.60,46.35 L345.36,46.07 L346.13,45.80 L346.89,45.53 L347.66,45.27 L348.42,45.02 L349.18,44.78 L349.95,44.55 L350.71,44.32 L351.48,44.10 L352.24,43.89 L353.01,43.68 L353.77,43.48 L354.53,43.29 L355.30,43.10 L356.06,42.92 L356.83,42.74 L357.59,42.57 L358.36,42.40 L359.12,42.24 L359.89,42.09 L360.65,41.93 L361.41,41.79 L362.18,41.65 L362.94,41.51 L363.71,41.37 L364.47,41.24 L365.24,41.12 L366.00,41.00 L366.76,40.88 L367.53,40.76 L368.29,40.65 L369.06,40.55 L369.82,40.45 L370.59,40.35 L371.35,40.25 L372.12,40.16 L372.88,40.07 L373.64,39.98 L374.41,39.89 L375.17,39.81 L375.94,39.73 L376.70,39.65 L377.47,39.58 L378.23,39.50 L378.99,39.43 L379.76,39.36 L380.52,39.30 L381.29,39.23 L382.05,39.17 L382.82,39.11 L383.58,39.06 L384.35,39.00 L385.11,38.95 L385.87,38.90 L386.64,38.85 L387.40,38.80 L388.17,38.75 L388.93,38.71 L389.70,38.66 L390.46,38.62 L391.22,38.58 L391.99,38.53 L392.75,38.50 L393.52,38.46 L394.28,38.42 L395.05,38.38 L395.81,38.35 L396.58,38.31 L397.34,38.28 L398.10,38.25 L398.87,38.22 L399.63,38.19 L400.40,38.16 L401.16,38.13 L401.93,38.10 L402.69,38.07 L403.45,38.04 L404.22,38.02 L404.98,38.00 L405.75,37.97 L406.51,37.95 L407.28,37.93 L408.04,37.91 L408.81,37.89 L409.57,37.87 L410.33,37.86 L411.10,37.84 L411.86,37.82 L412.63,37.81 L413.39,37.80 L414.16,37.78 L414.92,37.77 L415.68,37.76 L416.45,37.76 L417.21,37.76 L417.98,37.76 L418.74,37.76 L419.51,37.77 L420.27,37.78 L421.04,37.80 L421.80,37.83 L432.10,38.80 L437.80,44.80 L441.70,50.00 L445.60,57.50 L451.00,68.50 L454.20,76.00 L454.67,77.55 L455.43,80.09 L456.20,82.70 L456.96,85.38 L457.73,88.14 L458.49,90.96 L459.25,93.85 L460.02,96.81 L460.78,99.82 L461.55,102.89 L462.31,106.01 L463.08,109.19 L463.84,112.40 L464.61,115.66 L465.37,118.96 L466.13,122.30 L466.90,125.66 L467.66,129.05 L468.43,132.47 L469.19,135.90 L469.96,139.35 L470.72,142.81 L471.48,146.29 L472.25,149.77 L473.01,153.25 L473.78,156.73 L474.54,160.20 L475.31,163.67 L476.07,167.18 L476.84,170.69 L477.60,174.18 L478.36,177.65 L479.13,181.10 L479.89,184.53 L480.66,187.93 L481.42,191.31 L482.19,194.65 L482.95,197.96 L483.71,201.24 L484.48,204.48 L485.24,207.69 L486.01,210.86 L486.77,213.99 L487.54,217.07 L488.30,220.12 L489.07,223.12 L489.83,226.08 L490.59,228.99 L491.36,231.86 L492.12,234.68 L492.89,237.46 L493.65,240.19 L494.42,242.87 L495.18,245.51 L495.94,248.09 L496.71,250.63 L497.47,253.13 L498.24,255.57 L499.00,257.97 L499.77,260.32 L500.53,262.62 L501.30,264.88 L502.06,267.08 L502.82,269.25 L503.59,271.36 L504.35,273.43 L505.12,275.46 L505.88,277.44 L506.65,279.38 L507.41,281.28 L508.17,283.13 L508.94,284.95 L509.70,286.72 L510.47,288.45 L511.23,290.14 L512.00,291.79 L512.76,293.40 L513.53,294.97 L514.29,296.50 L515.05,297.99 L515.82,299.45 L516.58,300.87 L517.35,302.25 L518.11,303.60 L518.88,304.92 L519.64,306.20 L520.40,307.45 L521.17,308.66 L521.93,309.84 L522.70,311.00 L523.46,312.12 L524.23,313.21 L524.99,314.27 L525.76,315.31 L526.52,316.31 L527.28,317.29 L528.05,318.25 L528.81,319.17 L529.58,320.09 L530.34,320.98 L531.11,321.85 L531.87,322.69 L532.63,323.51 L533.40,324.31 L534.16,325.09 L534.93,325.84 L535.69,326.57 L536.46,327.28 L537.22,327.97 L537.99,328.64 L538.75,329.29 L539.51,329.92 L540.28,330.53 L541.04,331.13 L541.81,331.71 L542.57,332.27 L543.34,332.82 L544.10,333.35 L544.86,333.86 L545.63,334.36 L546.39,334.84 L547.16,335.31 L547.92,335.77 L548.69,336.21 L549.45,336.64 L550.22,337.06 L550.98,337.47 L551.74,337.86 L552.51,338.24 L553.27,338.61 L554.04,338.97 L554.80,339.32 L555.57,339.66 L556.33,339.98 L557.09,340.30 L557.86,340.61 L558.62,340.91 L559.39,341.20 L560.15,341.48 L560.92,341.75 L561.68,342.02 L562.45,342.28 L563.21,342.53 L563.97,342.77 L564.74,343.01 L565.50,343.24 L566.27,343.46 L567.03,343.67 L567.80,343.88 L568.56,344.08 L569.32,344.28 L570.09,344.47 L570.85,344.65 L571.62,344.83 L572.38,345.00 L573.15,345.17 L573.91,345.33 L574.68,345.49 L575.44,345.64 L576.20,345.79 L576.97,345.93 L577.73,346.07 L578.50,346.21 L579.26,346.34 L580.03,346.46 L580.79,346.59 L581.55,346.70 L582.32,346.82 L583.08,346.93 L583.85,347.04 L584.61,347.15 L585.38,347.26 L586.14,347.36 L586.91,347.45 L587.67,347.55 L588.43,347.64 L589.20,347.73 L589.96,347.82 L590.73,347.90 L591.49,347.98 L592.26,348.06 L593.02,348.13 L593.78,348.21 L594.55,348.28 L595.31,348.34 L596.08,348.41 L596.84,348.47 L597.61,348.54 L598.37,348.60 L599.14,348.65 L599.90,348.71" stroke="#00cc00" stroke-width="3.2" stroke-dasharray="5.8 6.2"/>
<path d="M65.60,350.40 L66.36,350.40 L67.13,350.40 L67.89,350.40 L68.66,350.40 L69.42,350.40 L70.19,350.40 L70.95,350.40 L71.72,350.40 L72.48,350.40 L73.24,350.40 L74.01,350.40 L74.77,350.40 L75.54,350.40 L76.30,350.40 L77.07,350.40 L77.83,350.40 L78.59,350.40 L79.36,350.40 L80.12,350.40 L80.89,350.40 L81.65,350.40 L82.42,350.40 L83.18,350.40 L83.95,350.40 L84.71,350.40 L85.47,350.40 L86.24,350.40 L87.00,350.40 L87.77,350.40 L88.53,350.40 L89.30,350.40 L90.06,350.40 L90.82,350.40 L91.59,350.40 L92.35,350.40 L93.12,350.40 L93.88,350.40 L94.65,350.40 L95.41,350.40 L96.18,350.40 L96.94,350.40 L97.70,350.40 L98.47,350.40 L99.23,350.40 L100.00,350.40 L100.76,350.40 L101.53,350.40 L102.29,350.40 L103.05,350.40 L103.82,350.40 L104.58,350.40 L105.35,350.40 L106.11,350.40 L106.88,350.40 L107.64,350.40 L108.41,350.40 L109.17,350.40 L109.93,350.40 L110.70,350.40 L111.46,350.40 L112.23,350.40 L112.99,350.40 L113.76,350.40 L114.52,350.40 L115.28,350.40 L116.05,350.40 L116.81,350.40 L117.58,350.40 L118.34,350.40 L119.11,350.40 L119.87,350.40 L120.64,350.40 L121.40,350.40 L122.16,350.40 L122.93,350.40 L123.69,350.40 L124.46,350.40 L125.22,350.40 L125.99,350.40 L126.75,350.40 L127.51,350.40 L128.28,350.40 L129.04,350.40 L129.81,350.40 L130.57,350.40 L131.34,350.40 L132.10,350.40 L132.87,350.40 L133.63,350.40 L134.39,350.40 L135.16,350.40 L135.92,350.40 L136.69,350.40 L137.45,350.40 L138.22,350.40 L138.98,350.40 L139.74,350.40 L140.51,350.40 L141.27,350.40 L142.04,350.40 L142.80,350.40 L143.57,350.40 L144.33,350.40 L145.10,350.40 L145.86,350.40 L146.62,350.40 L147.39,350.40 L148.15,350.40 L148.92,350.40 L149.68,350.40 L150.45,350.40 L151.21,350.40 L151.97,350.40 L152.74,350.40 L153.50,350.40 L154.27,350.40 L155.03,350.40 L155.80,350.40 L156.56,350.40 L157.33,350.40 L158.09,350.40 L158.85,350.40 L159.62,350.40 L160.38,350.40 L161.15,350.40 L161.91,350.40 L162.68,350.40 L163.44,350.40 L164.20,350.40 L164.97,350.40 L165.73,350.40 L166.50,350.40 L167.26,350.40 L168.03,350.40 L168.79,350.40 L169.56,350.40 L170.32,350.40 L171.08,350.40 L171.85,350.40 L172.61,350.40 L173.38,350.40 L174.14,350.40 L174.91,350.40 L175.67,350.40 L176.43,350.40 L177.20,350.40 L177.96,350.40 L178.73,350.40 L179.49,350.40 L180.26,350.40 L181.02,350.40 L181.79,350.40 L182.55,350.40 L183.31,350.40 L184.08,350.40 L184.84,350.40 L185.61,350.40 L186.37,350.40 L187.14,350.40 L187.90,350.40 L188.66,350.40 L189.43,350.40 L190.19,350.40 L190.96,350.40 L191.72,350.40 L192.49,350.40 L193.25,350.40 L194.02,350.40 L194.78,350.40 L195.54,350.40 L196.31,350.40 L197.07,350.40 L197.84,350.40 L198.60,350.40 L199.37,350.40 L200.13,350.40 L200.89,350.40 L201.66,350.40 L202.42,350.40 L203.19,350.40 L203.95,350.40 L204.72,350.40 L205.48,350.40 L206.25,350.40 L207.01,350.39 L207.77,350.39 L208.54,350.39 L209.30,350.39 L210.07,350.38 L210.83,350.37 L211.60,350.37 L212.36,350.36 L213.12,350.34 L213.89,350.33 L214.65,350.31 L215.42,350.29 L216.18,350.26 L216.95,350.23 L217.71,350.19 L218.48,350.14 L219.24,350.08 L220.00,350.02 L220.77,349.94 L221.53,349.85 L222.30,349.74 L223.06,349.61 L223.83,349.47 L224.59,349.31 L225.35,349.12 L226.12,348.91 L226.88,348.67 L227.65,348.40 L228.41,348.10 L229.18,347.76 L229.94,347.39 L230.71,346.97 L231.47,346.51 L232.23,346.01 L233.00,345.46 L233.76,344.85 L234.53,344.19 L235.29,343.48 L236.06,342.70 L236.82,341.86 L237.58,340.96 L238.35,340.00 L239.11,338.97 L239.88,337.86 L240.64,336.69 L241.41,335.44 L242.17,334.12 L242.94,332.72 L243.70,331.25 L244.46,329.63 L245.23,327.93 L245.99,326.14 L246.76,324.27 L247.52,322.32 L248.29,320.28 L249.05,318.16 L249.82,315.96 L250.58,313.68 L251.34,311.32 L252.11,308.89 L252.87,306.38 L253.64,303.80 L254.40,301.16 L255.17,298.44 L255.93,295.66 L256.69,292.82 L257.46,289.93 L258.22,286.97 L258.99,283.97 L259.75,280.92 L260.52,277.82 L261.28,274.68 L262.05,271.50 L262.81,268.29 L263.57,265.05 L264.34,261.78 L265.10,258.48 L265.87,255.17 L266.63,251.84 L267.40,248.49 L268.16,245.13 L268.92,241.76 L269.69,238.39 L270.45,235.02 L271.22,231.65 L271.98,228.29 L272.75,224.93 L273.51,221.58 L274.28,218.25 L275.04,214.93 L275.80,211.56 L276.57,208.21 L277.33,204.88 L278.10,201.58 L278.86,198.30 L279.63,195.06 L280.39,191.85 L281.15,188.66 L281.92,185.52 L282.68,182.41 L283.45,179.33 L284.21,176.30 L284.98,173.30 L285.74,170.35 L286.51,167.43 L287.27,164.56 L288.03,161.74 L288.80,158.95 L289.56,156.22 L290.33,153.52 L290.82,151.82 L292.20,155.29 L292.62,153.72 L293.38,150.91 L294.15,148.15 L294.91,145.44 L295.68,142.78 L296.44,140.16 L297.21,137.60 L297.97,135.05 L298.74,132.55 L299.50,130.10 L300.26,127.70 L301.03,125.35 L301.79,123.04 L302.56,120.79 L303.32,118.58 L304.09,116.42 L304.85,114.31 L305.61,112.25 L306.38,110.23 L307.14,108.26 L307.91,106.33 L308.67,104.45 L309.44,102.62 L310.20,100.82 L310.97,99.07 L311.73,97.36 L312.49,95.70 L313.26,94.07 L314.02,92.49 L314.79,90.94 L315.55,89.44 L316.32,87.97 L317.08,86.54 L317.84,85.14 L318.61,83.78 L319.37,82.46 L320.14,81.17 L320.90,79.91 L321.67,78.69 L322.43,77.50 L323.20,76.34 L323.96,75.22 L324.72,74.12 L325.49,73.05 L326.25,72.02 L327.02,71.01 L327.78,70.02 L328.55,69.07 L329.31,68.13 L330.07,67.23 L330.84,66.34 L331.60,65.49 L332.37,64.65 L333.13,63.84 L333.90,63.06 L334.66,62.29 L335.43,61.55 L336.19,60.82 L336.95,60.12 L337.72,59.44 L338.48,58.78 L339.25,58.14 L340.01,57.51 L340.78,56.90 L341.54,56.31 L342.30,55.74 L343.07,55.19 L343.83,54.65 L344.60,54.12 L345.36,53.62 L346.13,53.12 L346.89,52.64 L347.66,52.18 L348.42,51.73 L349.18,51.29 L349.95,50.86 L350.71,50.45 L351.48,50.05 L352.24,49.67 L353.01,49.29 L353.77,48.93 L354.53,48.58 L355.30,48.24 L356.06,47.90 L356.83,47.58 L357.59,47.27 L358.36,46.97 L359.12,46.67 L359.89,46.39 L360.65,46.11 L361.41,45.84 L362.18,45.58 L362.94,45.33 L363.71,45.08 L364.47,44.84 L365.24,44.61 L366.00,44.38 L366.76,44.17 L367.53,43.96 L368.29,43.75 L369.06,43.56 L369.82,43.37 L370.59,43.18 L371.35,43.01 L372.12,42.83 L372.88,42.67 L373.64,42.50 L374.41,42.35 L375.17,42.19 L375.94,42.04 L376.70,41.90 L377.47,41.76 L378.23,41.62 L378.99,41.49 L379.76,41.36 L380.52,41.24 L381.29,41.12 L382.05,41.00 L382.82,40.89 L383.58,40.78 L384.35,40.68 L385.11,40.58 L385.87,40.49 L386.64,40.40 L387.40,40.30 L388.17,40.22 L388.93,40.13 L389.70,40.05 L390.46,39.97 L391.22,39.89 L391.99,39.81 L392.75,39.74 L393.52,39.66 L394.28,39.59 L395.05,39.53 L395.81,39.46 L396.58,39.39 L397.34,39.33 L398.10,39.27 L398.87,39.21 L399.63,39.15 L400.40,39.10 L401.16,39.04 L401.93,38.99 L402.69,38.94 L403.45,38.89 L404.22,38.84 L404.98,38.79 L405.75,38.75 L406.51,38.71 L407.28,38.67 L408.04,38.64 L408.81,38.60 L409.57,38.56 L410.33,38.53 L411.10,38.50 L411.86,38.47 L412.63,38.44 L413.39,38.41 L414.16,38.38 L414.92,38.35 L415.68,38.33 L416.45,38.31 L417.21,38.30 L417.98,38.28 L418.74,38.27 L419.51,38.27 L420.27,38.27 L421.04,38.28 L421.80,38.30 L432.10,38.80 L437.80,44.80 L441.70,50.00 L445.60,57.50 L451.00,68.50 L454.20,76.00 L454.67,77.74 L455.43,80.27 L456.20,82.88 L456.96,85.56 L457.73,88.31 L458.49,91.13 L459.25,94.02 L460.02,96.97 L460.78,99.98 L461.55,103.05 L462.31,106.17 L463.08,109.34 L463.84,112.55 L464.61,115.81 L465.37,119.10 L466.13,122.43 L466.90,125.79 L467.66,129.18 L468.43,132.59 L469.19,136.02 L469.96,139.47 L470.72,142.93 L471.48,146.40 L472.25,149.87 L473.01,153.35 L473.78,156.83 L474.54,160.30 L475.31,163.77 L476.07,167.28 L476.84,170.78 L477.60,174.27 L478.36,177.74 L479.13,181.19 L479.89,184.62 L480.66,188.01 L481.42,191.39 L482.19,194.73 L482.95,198.04 L483.71,201.31 L484.48,204.55 L485.24,207.76 L486.01,210.92 L486.77,214.05 L487.54,217.14 L488.30,220.18 L489.07,223.18 L489.83,226.14 L490.59,229.05 L491.36,231.92 L492.12,234.74 L492.89,237.51 L493.65,240.24 L494.42,242.92 L495.18,245.55 L495.94,248.14 L496.71,250.68 L497.47,253.17 L498.24,255.61 L499.00,258.01 L499.77,260.36 L500.53,262.66 L501.30,264.91 L502.06,267.12 L502.82,269.28 L503.59,271.40 L504.35,273.47 L505.12,275.49 L505.88,277.47 L506.65,279.41 L507.41,281.31 L508.17,283.16 L508.94,284.98 L509.70,286.75 L510.47,288.48 L511.23,290.17 L512.00,291.81 L512.76,293.42 L513.53,294.99 L514.29,296.52 L515.05,298.02 L515.82,299.47 L516.58,300.89 L517.35,302.27 L518.11,303.62 L518.88,304.94 L519.64,306.22 L520.40,307.46 L521.17,308.68 L521.93,309.86 L522.70,311.01 L523.46,312.13 L524.23,313.22 L524.99,314.29 L525.76,315.32 L526.52,316.33 L527.28,317.31 L528.05,318.26 L528.81,319.19 L529.58,320.10 L530.34,320.99 L531.11,321.86 L531.87,322.70 L532.63,323.52 L533.40,324.32 L534.16,325.09 L534.93,325.85 L535.69,326.58 L536.46,327.29 L537.22,327.98 L537.99,328.65 L538.75,329.30 L539.51,329.93 L540.28,330.54 L541.04,331.14 L541.81,331.72 L542.57,332.28 L543.34,332.82 L544.10,333.35 L544.86,333.87 L545.63,334.36 L546.39,334.85 L547.16,335.32 L547.92,335.78 L548.69,336.22 L549.45,336.65 L550.22,337.07 L550.98,337.47 L551.74,337.86 L552.51,338.25 L553.27,338.62 L554.04,338.97 L554.80,339.32 L555.57,339.66 L556.33,339.99 L557.09,340.31 L557.86,340.61 L558.62,340.91 L559.39,341.20 L560.15,341.48 L560.92,341.76 L561.68,342.02 L562.45,342.28 L563.21,342.53 L563.97,342.78 L564.74,343.01 L565.50,343.24 L566.27,343.46 L567.03,343.68 L567.80,343.88 L568.56,344.09 L569.32,344.28 L570.09,344.47 L570.85,344.65 L571.62,344.83 L572.38,345.01 L573.15,345.17 L573.91,345.33 L574.68,345.49 L575.44,345.64 L576.20,345.79 L576.97,345.93 L577.73,346.07 L578.50,346.21 L579.26,346.34 L580.03,346.46 L580.79,346.59 L581.55,346.71 L582.32,346.82 L583.08,346.93 L583.85,347.04 L584.61,347.15 L585.38,347.26 L586.14,347.36 L586.91,347.46 L587.67,347.55 L588.43,347.64 L589.20,347.73 L589.96,347.82 L590.73,347.90 L591.49,347.98 L592.26,348.06 L593.02,348.13 L593.78,348.21 L594.55,348.28 L595.31,348.35 L596.08,348.41 L596.84,348.48 L597.61,348.54 L598.37,348.60 L599.14,348.66 L599.90,348.71" stroke="#00cc00" stroke-width="3.3"/>
</g>
<!-- arrows -->
<g fill="none" stroke="#ffff00" stroke-width="2" stroke-linecap="round" stroke-linejoin="round">
<path d="M182,155.6 L257.2,172.3 M249.8,167.6 L257.2,172.3 L248.4,176.6"/>
<path d="M178.2,203.2 L257.2,223.6 M248.4,218 L257.2,223.6 L246.9,226.4"/>
<path d="M174.8,250.3 L262.4,272.6 M253.7,266.1 L262.4,272.6 L252.3,275.4"/>
</g>
<text class="ann" x="128" y="150.7" textLength="50" lengthAdjust="spacingAndGlyphs">8µm Be</text>
<text class="ann" x="109" y="204.6" textLength="48.5" lengthAdjust="spacingAndGlyphs">12.5µm</text>
<text class="ann" x="104.6" y="254.1" textLength="36.5" lengthAdjust="spacingAndGlyphs">25µm</text>
<!-- legend -->
<rect x="488" y="58" width="86.8" height="66.5" fill="#858585"/>
<rect x="488" y="58" width="84.8" height="64.6" fill="#a8a8a8"/>
<rect x="489" y="59" width="83.8" height="63.6" fill="#e4e4e4"/>
<rect x="490" y="60" width="82.8" height="62.6" fill="#d9d9d9"/>
<line x1="492.7" y1="74.4" x2="518.3" y2="74.4" stroke="#ff0000" stroke-width="3" stroke-linecap="round"/>
<line x1="492.7" y1="107.4" x2="518.3" y2="107.4" stroke="#00cc00" stroke-width="3" stroke-linecap="round"/>
<text class="leg" x="521.2" y="78.3" textLength="48.9" lengthAdjust="spacingAndGlyphs">0.5 mm</text>
<text class="leg" x="521.2" y="110.8" textLength="48.9" lengthAdjust="spacingAndGlyphs">1.0 mm</text>
<!-- axis labels -->
<text class="tick" x="51.0" y="354.65" text-anchor="end">0</text>
<text class="tick" x="51.0" y="323.65" text-anchor="end">0.1</text>
<text class="tick" x="51.0" y="292.65" text-anchor="end">0.2</text>
<text class="tick" x="51.0" y="260.65" text-anchor="end">0.3</text>
<text class="tick" x="51.0" y="229.65" text-anchor="end">0.4</text>
<text class="tick" x="51.0" y="197.65" text-anchor="end">0.5</text>
<text class="tick" x="51.0" y="166.65" text-anchor="end">0.6</text>
<text class="tick" x="51.0" y="135.65" text-anchor="end">0.7</text>
<text class="tick" x="51.0" y="103.65" text-anchor="end">0.8</text>
<text class="tick" x="51.0" y="72.65" text-anchor="end">0.9</text>
<text class="tick" x="51.0" y="40.65" text-anchor="end">1</text>
<text class="tick" x="65.30" y="375.5" text-anchor="middle">0.1</text>
<text class="tick" x="244.60" y="375.5" text-anchor="middle">1</text>
<text class="tick" x="422.80" y="375.5" text-anchor="middle">10</text>
<text class="tick" x="600.80" y="375.5" text-anchor="middle">100</text>
<text class="title" x="281" y="25.9" textLength="58" lengthAdjust="spacingAndGlyphs">Vtx QE</text>
<text class="axt" x="273.4" y="395.3" style="word-spacing:3px" textLength="101.9" lengthAdjust="spacingAndGlyphs">Energy [keV]</text>
<text class="axq" transform="translate(22.1,209.4) rotate(-90)" textLength="20.8" lengthAdjust="spacingAndGlyphs">QE</text>
<!-- outer border -->
<rect x="1.5" y="1.5" width="622" height="404" fill="none" stroke="#000" stroke-width="3"/>
<rect x="0.5" y="0.5" width="624" height="406" fill="none" stroke="#202020" stroke-width="1"/>
<rect x="0" y="0" width="1" height="1" fill="#f2f2f2"/><rect x="624" y="406" width="1" height="1" fill="#c8c8c8"/>
</svg>
</body>
</html>
